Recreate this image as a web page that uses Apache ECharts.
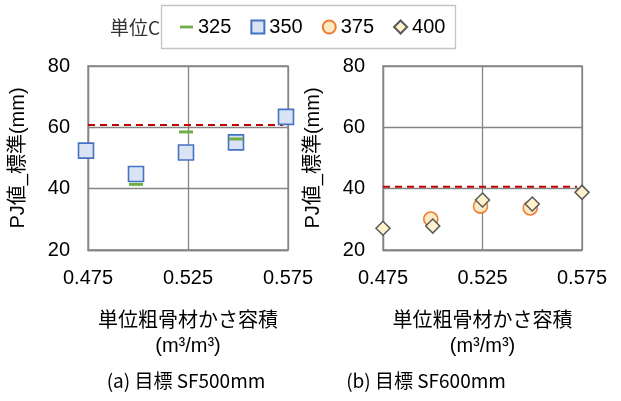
<!DOCTYPE html>
<html>
<head>
<meta charset="utf-8">
<script src="https://cdn.jsdelivr.net/npm/echarts@6/dist/echarts.min.js"></script>
<style>
html, body { margin: 0; padding: 0; background: #fff; }
#chart { width: 621px; height: 401px; }
</style>
</head>
<body>
<div id="chart"></div>
<script>
// Panel (a): target SF500mm
const xs325 = [0.499, 0.524, 0.549];
const v325 = [41.4, 58.5, 56.2];
const xs350 = [0.474, 0.499, 0.524, 0.549, 0.574];
const v350 = [52.4, 44.8, 51.8, 55.1, 63.4];
const refA = 60.8;

// Panel (b): target SF600mm
const xs375 = [0.499, 0.524, 0.549];
const v375 = [30.1, 34.3, 33.7];
const xs400 = [0.475, 0.500, 0.525, 0.550, 0.575];
const v400 = [27.1, 27.8, 36.3, 35.0, 38.8];
const refB = 40.6;

const refXs = [0.475, 0.5725];
const seriesNames = ['325', '350', '375', '400'];
const xTicks = [0.475, 0.525, 0.575];
const yTicks = [20, 40, 60, 80];

const pair = (xs, vs) => xs.map((x, i) => [x, vs[i]]);

const FONT = "'Liberation Sans', 'Noto Sans CJK JP', sans-serif";
const gridColor = '#858585';

const chart = echarts.init(document.getElementById('chart'), null, { renderer: 'canvas' });

function xAxis(idx) {
  return {
    type: 'value', gridIndex: idx,
    min: xTicks[0], max: xTicks[xTicks.length - 1], interval: xTicks[1] - xTicks[0],
    name: '単位粗骨材かさ容積\n(m³/m³)', nameLocation: 'middle', nameGap: 59,
    nameTextStyle: { fontFamily: FONT, fontSize: 20, color: '#000', lineHeight: 25 },
    axisLine: { show: true, lineStyle: { color: gridColor, width: 1.3 } },
    axisTick: { show: false },
    axisLabel: { fontFamily: FONT, fontSize: 20, color: '#000', margin: 18,
      formatter: v => v.toFixed(3) },
    splitLine: { show: true, lineStyle: { color: gridColor, width: 1.3 } }
  };
}
function yAxis(idx) {
  return {
    type: 'value', gridIndex: idx,
    min: yTicks[0], max: yTicks[yTicks.length - 1], interval: yTicks[1] - yTicks[0],
    name: 'PJ値_標準(mm)', nameLocation: 'middle', nameGap: 60,
    nameTextStyle: { fontFamily: FONT, fontSize: 20, color: '#000' },
    axisLine: { show: true, lineStyle: { color: gridColor, width: 1.3 } },
    axisTick: { show: false },
    axisLabel: { fontFamily: FONT, fontSize: 20, color: '#000', margin: 18 },
    splitLine: { show: true, lineStyle: { color: gridColor, width: 1.3 } }
  };
}

const refLine = (idx, val) => ({
  type: 'line', xAxisIndex: idx, yAxisIndex: idx,
  data: refXs.map(x => [x, val]), symbol: 'none', silent: true, z: 1,
  lineStyle: { color: '#C00000', width: 2, type: [7, 5] }
});

chart.setOption({
  animation: false,
  backgroundColor: '#fff',
  textStyle: { fontFamily: FONT },
  grid: [
    { left: 88, top: 66, width: 200, height: 184, show: true, borderColor: gridColor, borderWidth: 1.3 },
    { left: 383, top: 66, width: 199, height: 184, show: true, borderColor: gridColor, borderWidth: 1.3 }
  ],
  xAxis: [xAxis(0), xAxis(1)],
  yAxis: [yAxis(0), yAxis(1)],
  legend: {
    left: 180, top: 17,
    padding: 0,
    itemWidth: 13, itemHeight: 13, itemGap: 19,
    textStyle: { fontFamily: FONT, fontSize: 20, color: '#000' },
    data: [
      { name: '325', icon: 'path://M0,0H14V3H0Z' },
      { name: '350', icon: 'rect' },
      { name: '375', icon: 'circle' },
      { name: '400', icon: 'diamond' }
    ]
  },
  graphic: [
    // legend frame
    { type: 'rect', shape: { x: 161.5, y: 5.5, width: 294, height: 43 }, silent: true,
      style: { fill: 'none', stroke: '#c4c4c4', lineWidth: 1.3 } },
    { type: 'text', left: 110, top: 18, style: { text: '単位C', font: "19px 'Noto Sans CJK JP'", fill: '#333' } },
    { type: 'text', x: 186, y: 381, style: { text: '(a) 目標 SF500mm', font: "19px 'Noto Sans CJK JP'", fill: '#000', align: 'center', verticalAlign: 'middle' } },
    { type: 'text', x: 426, y: 381, style: { text: '(b) 目標 SF600mm', font: "19px 'Noto Sans CJK JP'", fill: '#000', align: 'center', verticalAlign: 'middle' } }
  ],
  series: [
    refLine(0, refA),
    refLine(1, refB),
    {
      name: seriesNames[1], type: 'scatter', xAxisIndex: 0, yAxisIndex: 0, clip: false,
      data: pair(xs350, v350), symbol: 'rect', symbolSize: 15, z: 3,
      itemStyle: { color: '#DAE3F3', borderColor: '#4472C4', borderWidth: 1.6, opacity: 1 }
    },
    {
      name: seriesNames[0], type: 'scatter', xAxisIndex: 0, yAxisIndex: 0, clip: false,
      data: pair(xs325, v325), symbol: 'rect', symbolSize: [14, 3], z: 4,
      itemStyle: { color: '#70AD47', opacity: 1 }
    },
    {
      name: seriesNames[2], type: 'scatter', xAxisIndex: 1, yAxisIndex: 1, clip: false,
      data: pair(xs375, v375), symbol: 'circle', symbolSize: 14, z: 3,
      itemStyle: { color: '#FDE9C4', borderColor: '#ED7D31', borderWidth: 1.6, opacity: 1 }
    },
    {
      name: seriesNames[3], type: 'scatter', xAxisIndex: 1, yAxisIndex: 1, clip: false,
      data: pair(xs400, v400), symbol: 'diamond', symbolSize: 14, z: 4,
      itemStyle: { color: '#FFF2CC', borderColor: '#595959', borderWidth: 1.5, opacity: 1 }
    }
  ]
});
</script>
</body>
</html>
